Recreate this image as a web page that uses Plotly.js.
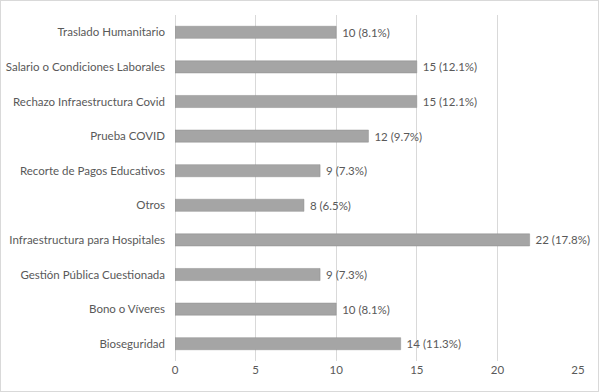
<!DOCTYPE html>
<html><head><meta charset="utf-8">
<script src="https://cdn.plot.ly/plotly-3.0.1.min.js"></script>
<style>html,body{margin:0;padding:0;background:#fff;}#c{width:597px;height:390px;border:1px solid #d9d9d9;}</style>
</head><body><div id="c"></div>
<script>
const categories = ["Bioseguridad","Bono o Víveres","Gestión Pública Cuestionada","Infraestructura para Hospitales","Otros","Recorte de Pagos Educativos","Prueba COVID","Rechazo Infraestructura Covid","Salario o Condiciones Laborales","Traslado Humanitario"];
const values = [14,10,9,22,8,9,12,15,15,10];
const percents = ["11.3%","8.1%","7.3%","17.8%","6.5%","7.3%","9.7%","12.1%","12.1%","8.1%"];
const tickVals = [0,5,10,15,20,25];
const labels = values.map((v,i)=>"\u00a0"+v+" ("+percents[i]+")");
const font = {family:"Lato, 'Open Sans', sans-serif", size:11.5, color:"#595959"};
Plotly.newPlot("c",[{
  type:"bar", orientation:"h", y:categories, x:values, text:labels,
  textposition:"outside", cliponaxis:false, constraintext:"none", width:0.35,
  textfont:font,
  marker:{color:"#a5a5a5", line:{color:"#8f8f8f", width:0.5}},
  hoverinfo:"none"
}],{
  width:597, height:390, margin:{l:174,r:20,t:14,b:30},
  paper_bgcolor:"#fff", plot_bgcolor:"#fff", showlegend:false,
  font:font,
  xaxis:{range:[0,25], tickvals:tickVals, showgrid:true, gridcolor:"#d9d9d9", zeroline:true, zerolinecolor:"#d9d9d9", showline:false, ticks:"", tickfont:font},
  yaxis:{type:"category", categoryorder:"array", categoryarray:categories, ticks:"", ticklabelstandoff:9, showline:false, showgrid:false, tickfont:font, automargin:false}
},{displayModeBar:false, staticPlot:true});
</script></body></html>
